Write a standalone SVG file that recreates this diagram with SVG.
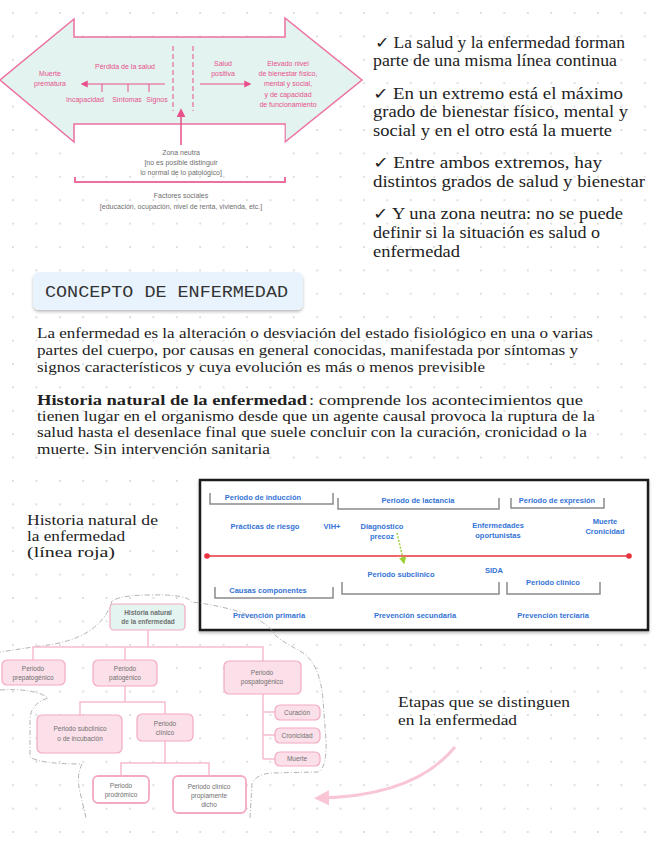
<svg xmlns="http://www.w3.org/2000/svg" width="656" height="848" viewBox="0 0 656 848">
<defs>
<pattern id="dots" x="12" y="12" width="23.4" height="23.4" patternUnits="userSpaceOnUse"><circle cx="1" cy="1" r="0.9" fill="#cfcfcf"/></pattern>
<marker id="pk" viewBox="0 0 10 10" refX="8" refY="5" markerWidth="6" markerHeight="6" orient="auto"><path d="M0,0 L10,5 L0,10 z" fill="#e8508c"/></marker>
<marker id="gr" viewBox="0 0 10 10" refX="8" refY="5" markerWidth="5" markerHeight="5" orient="auto"><path d="M0,0 L10,5 L0,10 z" fill="#9ccf3c"/></marker>
<marker id="lp" viewBox="0 0 10 10" refX="6" refY="5" markerWidth="5" markerHeight="5" orient="auto"><path d="M0,0 L10,5 L0,10 z" fill="#f8c6d4"/></marker>
<filter id="sh" x="-10%" y="-20%" width="120%" height="150%"><feDropShadow dx="0" dy="2" stdDeviation="1.5" flood-color="#000" flood-opacity="0.25"/></filter>
<style>
.ser{font-family:'Liberation Serif','DejaVu Serif',serif;fill:#222}
.r{font-size:16px}
.p{font-size:14px}
.pk{font-family:'Liberation Sans',Arial,sans-serif;font-size:7px;fill:#e8508c;text-anchor:middle}
.gy{font-family:'Liberation Sans',Arial,sans-serif;font-size:7px;fill:#6e6e6e;text-anchor:middle}
.bl{font-family:'Liberation Sans',Arial,sans-serif;font-size:7.5px;font-weight:bold;fill:#3373d6;text-anchor:middle}
.br{fill:none;stroke:#8a8a8a;stroke-width:1.5}
.mm{font-family:'Liberation Sans',Arial,sans-serif;font-size:6.5px;fill:#707070;text-anchor:middle}
.n1{fill:#fbe0e9;stroke:#f3a9c1;stroke-width:1.2}
.n2{fill:#ffffff;stroke:#f3a9c1;stroke-width:1.8}
.cn{fill:none;stroke:#f6bccd;stroke-width:1.5}
</style>
</defs>
<rect width="656" height="848" fill="#ffffff"/>
<rect width="656" height="848" fill="url(#dots)"/>

<!-- top arrow diagram -->
<g id="salud-enfermedad">
<polygon points="0,80 74,19 74,37 285,37 285,18 362,80 285,142 285,124 74,124 74,142" fill="#e2f3f0" stroke="#ec6fa0" stroke-width="1.5"/>
<rect x="75.5" y="125" width="209" height="50" fill="#ffffff"/>
<text class="pk" x="125" y="69">Pérdida de la salud</text>
<text class="pk" x="50" y="76">Muerte</text>
<text class="pk" x="50" y="86">prematura</text>
<line x1="165" y1="84" x2="82" y2="84" stroke="#e8508c" stroke-width="1.2" marker-end="url(#pk)"/>
<path d="M102,84 V92 M128,84 V92 M149,84 V92" stroke="#e8508c" stroke-width="1"/>
<text class="pk" x="85" y="102">Incapacidad</text>
<text class="pk" x="127" y="102">Síntomas</text>
<text class="pk" x="157" y="102">Signos</text>
<path d="M173,46 V111 M193,46 V111" stroke="#e8508c" stroke-width="1" stroke-dasharray="5 3"/>
<text class="pk" x="223" y="66">Salud</text>
<text class="pk" x="223" y="76">positiva</text>
<line x1="200" y1="84" x2="250" y2="84" stroke="#e8508c" stroke-width="1.2" marker-end="url(#pk)"/>
<text class="pk" x="288" y="66">Elevado nivel</text>
<text class="pk" x="288" y="76">de bienestar físico,</text>
<text class="pk" x="288" y="86">mental y social,</text>
<text class="pk" x="288" y="97">y de capacidad</text>
<text class="pk" x="288" y="107">de funcionamiento</text>
<line x1="181" y1="145" x2="181" y2="110" stroke="#e8508c" stroke-width="1.5" marker-end="url(#pk)"/>
<text class="gy" x="181" y="155">Zona neutra</text>
<text class="gy" x="181" y="165">[no es posible distinguir</text>
<text class="gy" x="181" y="175">lo normal de lo patológico]</text>
<path d="M75,177 V182 H285 V177" fill="none" stroke="#ec6fa0" stroke-width="2"/>
<text class="gy" x="181" y="198">Factores sociales</text>
<text class="gy" x="181" y="209">[educación, ocupación, nivel de renta, vivienda, etc.]</text>
</g>

<!-- right bullet text -->
<g id="lista">
<text class="ser r" x="375" y="48" textLength="250" lengthAdjust="spacingAndGlyphs">✓ La salud y la enfermedad forman</text>
<text class="ser r" x="373" y="66" textLength="244" lengthAdjust="spacingAndGlyphs">parte de una misma línea continua</text>
<text class="ser r" x="373" y="99" textLength="250" lengthAdjust="spacingAndGlyphs">✓ En un extremo está el máximo</text>
<text class="ser r" x="373" y="117" textLength="255" lengthAdjust="spacingAndGlyphs">grado de bienestar físico, mental y</text>
<text class="ser r" x="373" y="136" textLength="239" lengthAdjust="spacingAndGlyphs">social y en el otro está la muerte</text>
<text class="ser r" x="373" y="168" textLength="229" lengthAdjust="spacingAndGlyphs">✓ Entre ambos extremos, hay</text>
<text class="ser r" x="373" y="187" textLength="272" lengthAdjust="spacingAndGlyphs">distintos grados de salud y bienestar</text>
<text class="ser r" x="373" y="219" textLength="250" lengthAdjust="spacingAndGlyphs">✓ Y una zona neutra: no se puede</text>
<text class="ser r" x="373" y="238" textLength="227" lengthAdjust="spacingAndGlyphs">definir si la situación es salud o</text>
<text class="ser r" x="373" y="257" textLength="87" lengthAdjust="spacingAndGlyphs">enfermedad</text>
</g>

<!-- header -->
<g id="concepto">
<rect x="33" y="272" width="270" height="38" rx="6" fill="#e9f3fe" filter="url(#sh)"/>
<text x="45" y="297" font-family="'Liberation Mono','DejaVu Sans Mono',monospace" font-size="16" fill="#333" textLength="243" lengthAdjust="spacingAndGlyphs">CONCEPTO DE ENFERMEDAD</text>
</g>

<!-- paragraphs -->
<g id="definicion">
<text class="ser p" x="37" y="338" textLength="556" lengthAdjust="spacingAndGlyphs">La enfermedad es la alteración o desviación del estado fisiológico en una o  varias</text>
<text class="ser p" x="37" y="355" textLength="541" lengthAdjust="spacingAndGlyphs">partes del cuerpo, por causas en general conocidas, manifestada por síntomas y</text>
<text class="ser p" x="37" y="372" textLength="448" lengthAdjust="spacingAndGlyphs">signos característicos y cuya evolución es más o menos previsible</text>
<text class="ser" x="37" y="405" font-size="15" font-weight="bold" textLength="270" lengthAdjust="spacingAndGlyphs">Historia natural de la enfermedad</text>
<text class="ser p" x="309" y="405" textLength="274" lengthAdjust="spacingAndGlyphs">: comprende los acontecimientos que</text>
<text class="ser p" x="37" y="421" textLength="558" lengthAdjust="spacingAndGlyphs">tienen lugar en el organismo desde que un agente causal provoca la ruptura de la</text>
<text class="ser p" x="37" y="437" textLength="550" lengthAdjust="spacingAndGlyphs">salud hasta el desenlace final que suele concluir con la curación, cronicidad o la</text>
<text class="ser p" x="37" y="454" textLength="233" lengthAdjust="spacingAndGlyphs">muerte. Sin intervención sanitaria</text>
</g>

<g id="nota-linea">
<text class="ser" x="27" y="525" font-size="15" textLength="131" lengthAdjust="spacingAndGlyphs">Historia natural de</text>
<text class="ser" x="27" y="541" font-size="15" textLength="98" lengthAdjust="spacingAndGlyphs">la enfermedad</text>
<text class="ser" x="27" y="557" font-size="15" textLength="88" lengthAdjust="spacingAndGlyphs">(línea roja)</text>
</g>

<!-- timeline box -->
<g id="linea-tiempo">
<rect x="200" y="480" width="448" height="150" fill="#ffffff" stroke="#1e1e1e" stroke-width="2.5" filter="url(#sh)"/>
<path class="br" d="M210,493 V504 H333 V493"/>
<text class="bl" x="263" y="500">Periodo de inducción</text>
<path class="br" d="M338,498 V509 H499 V498"/>
<text class="bl" x="418" y="503">Periodo de lactancia</text>
<path class="br" d="M511,498 V508 H604 V498"/>
<text class="bl" x="557" y="503">Periodo de expresión</text>
<text class="bl" x="265" y="529">Prácticas de riesgo</text>
<text class="bl" x="332" y="529">VIH+</text>
<text class="bl" x="382" y="529">Diagnóstico</text>
<text class="bl" x="382" y="539">precoz</text>
<text class="bl" x="498" y="528">Enfermedades</text>
<text class="bl" x="498" y="538">oportunistas</text>
<text class="bl" x="605" y="524">Muerte</text>
<text class="bl" x="605" y="534">Cronicidad</text>
<line x1="207" y1="556" x2="629" y2="556" stroke="#e8323c" stroke-width="1.5"/>
<circle cx="207" cy="556" r="2.8" fill="#e8323c"/>
<circle cx="629" cy="556" r="2.8" fill="#e8323c"/>
<line x1="397" y1="533" x2="404" y2="563" stroke="#9ccf3c" stroke-width="1.5" stroke-dasharray="2 1.5" marker-end="url(#gr)"/>
<text class="bl" x="401" y="577">Periodo subclínico</text>
<text class="bl" x="494" y="573">SIDA</text>
<path class="br" d="M342,582 V594 H499 V582"/>
<text class="bl" x="553" y="585">Periodo clínico</text>
<path class="br" d="M507,582 V594 H600 V582"/>
<text class="bl" x="268" y="593">Causas componentes</text>
<path class="br" d="M215,587 V598 H333 V587"/>
<text class="bl" x="269" y="618">Prevención primaria</text>
<text class="bl" x="415" y="618">Prevención secundaria</text>
<text class="bl" x="553" y="618">Prevención terciaria</text>
</g>

<!-- mind map -->
<path id="nube" d="M112,601 Q100,640 40,646 L0,652 M0,690 Q35,688 48,698 Q30,704 30,720 L30,757 Q40,764 82,764 Q76,776 80,792 L86,818 M250,818 L252,784 Q256,774 272,773 L318,772 Q327,768 326,740 L323,700 Q320,662 300,651 Q283,642 276,636 Q262,611 192,602 Q186,594 150,595 Q121,595 112,601" fill="none" stroke="#a0a0a0" stroke-width="0.8" stroke-dasharray="5 2 1 2"/>
<g id="conectores">
<path class="cn" d="M148,630 V647 M33,660 V647 H263 V661 M125,647 V660"/>
<path class="cn" d="M125,686 V702 M80,715 V702 H165 V714"/>
<path class="cn" d="M165,741 V763 M121,776 V763 H209 V776"/>
<path class="cn" d="M263,694 V759 M263,712 H275 M263,735 H275 M263,759 H275"/>
</g>
<g id="n-raiz"><rect x="110" y="604" width="75" height="26" rx="4" fill="#e3f4f1" stroke="#f3a9c1" stroke-width="1.2"/><text class="mm" x="148" y="615" font-weight="bold" fill="#444">Historia natural</text><text class="mm" x="148" y="624" font-weight="bold" fill="#444">de la enfermedad</text></g>
<g id="n-prepatogenico"><rect x="2" y="660" width="63" height="25" rx="5" class="n1"/><text class="mm" x="33" y="671">Periodo</text><text class="mm" x="33" y="680">prepatogénico</text></g>
<g id="n-patogenico"><rect x="93" y="660" width="64" height="26" rx="5" class="n1"/><text class="mm" x="125" y="671">Periodo</text><text class="mm" x="125" y="680">patogénico</text></g>
<g id="n-pospatogenico"><rect x="224" y="661" width="77" height="33" rx="5" class="n1"/><text class="mm" x="262" y="675">Periodo</text><text class="mm" x="262" y="684">pospatogénico</text></g>
<g id="n-subclinico"><rect x="37" y="715" width="85" height="38" rx="5" class="n1"/><text class="mm" x="80" y="731">Periodo subclínico</text><text class="mm" x="80" y="741">o de incubación</text></g>
<g id="n-clinico"><rect x="137" y="714" width="56" height="27" rx="5" class="n1"/><text class="mm" x="165" y="726">Periodo</text><text class="mm" x="165" y="735">clínico</text></g>
<g id="n-prodromico"><rect x="93" y="776" width="56" height="27" rx="5" class="n2"/><text class="mm" x="121" y="788">Periodo</text><text class="mm" x="121" y="797">prodrómico</text></g>
<g id="n-propiamente"><rect x="173" y="776" width="73" height="37" rx="5" class="n2"/><text class="mm" x="209" y="789">Periodo clínico</text><text class="mm" x="209" y="798">propiamente</text><text class="mm" x="209" y="807">dicho</text></g>
<g id="n-curacion"><rect x="275" y="705" width="45" height="15" rx="5" class="n1"/><text class="mm" x="297" y="714.5">Curación</text></g>
<g id="n-cronicidad"><rect x="275" y="728" width="45" height="15" rx="5" class="n1"/><text class="mm" x="297" y="737.5">Cronicidad</text></g>
<g id="n-muerte"><rect x="275" y="752" width="45" height="14" rx="5" class="n1"/><text class="mm" x="297" y="761">Muerte</text></g>

<g id="etapas">
<text class="ser" x="398" y="707" font-size="15" textLength="172" lengthAdjust="spacingAndGlyphs">Etapas que se distinguen</text>
<text class="ser" x="398" y="725" font-size="15" textLength="119" lengthAdjust="spacingAndGlyphs">en la enfermedad</text>
<path d="M455,747 Q415,796 320,798" fill="none" stroke="#f8c6d4" stroke-width="3" marker-end="url(#lp)"/>
</g>
</svg>
